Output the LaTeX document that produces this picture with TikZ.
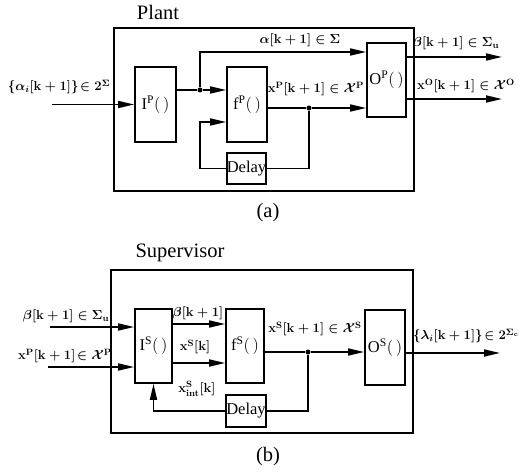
\RequirePackage{fix-cm}
\documentclass[tikz,border=0pt]{standalone}
\usepackage{amsmath,bm}
\usepackage{fontspec}
\setmainfont{Liberation Serif}
\usetikzlibrary{arrows.meta}
\tikzset{
  frame/.style={draw, line width=1.8pt, inner sep=0pt},
  blk/.style={draw, line width=1.7pt, inner sep=0pt, font=\fontsize{16.5}{18}\selectfont},
  sig/.style={font=\fontsize{13.1}{15}\selectfont\boldmath, inner sep=1pt},
  title/.style={font=\fontsize{20.5}{23}\selectfont, inner sep=1pt},
  flow/.style={-{Triangle[length=16pt,width=7pt]}, line width=1.7pt},
  wire/.style={line width=1.7pt},
  dot/.style={circle, fill, inner sep=0pt, minimum size=5pt},
}
\newcommand{\cx}{\mathcal{X}}
\newcommand{\kk}{[\mathbf{k}+1]}

\begin{document}
\begin{tikzpicture}[x=1pt, y=1pt]
\useasboundingbox (0,0) rectangle (521,471);

%% ── (a) the plant ────────────────────────────────────────────────────────
\node[title] (tplant) at (158,459) {Plant};
\node[frame, minimum width=300, minimum height=163] (plant) at (264,361.5) {};
\node[blk, minimum width=41, minimum height=75] (ip) at (155.5,366.5)
  {$\mathrm{I}^{\mathrm{P}}(\,)$};
\node[blk, minimum width=40, minimum height=75] (fp) at (247,366.5)
  {$\mathrm{f}^{\mathrm{P}}(\,)$};
\node[blk, minimum width=39, minimum height=31] (dp) at (246.5,302.5) {Delay};
\node[blk, minimum width=39, minimum height=74] (op) at (386.5,391)
  {$\mathrm{O}^{\mathrm{P}}(\,)$};

\coordinate (ain) at (52,366.5);
\coordinate (atop) at (200,419);
\coordinate (aloop) at (200,349);
\coordinate (bout) at (502,414);
\coordinate (xout) at (502,372);
\node[dot] (ja) at (200,381) {};
\node[dot] (jb) at (309,363) {};

\draw[flow] (ain) -- (ip.west);
\draw[wire] (ip.east |- ja) -- (ja);
\draw[flow] (ja) -- (ja -| fp.west);
\draw[flow] (ja) -- (atop) -- (atop -| op.west);
\draw[flow] (dp.west) -| (aloop) -- (aloop -| fp.west);
\draw[wire] (fp.east |- jb) -- (jb);
\draw[flow] (jb) -- (jb -| op.west);
\draw[wire] (jb) |- (dp.east);
\draw[flow] (op.east |- bout) -- (bout);
\draw[flow] (op.east |- xout) -- (xout);

\node[sig] (lain) at (59,384) {$\{\alpha_i\kk\}\!\in 2^{\Sigma}$};
\node[sig] (lalpha) at (300,431) {$\alpha\kk \in \Sigma$};
\node[sig] (lxp) at (316,382) {$\mathbf{x}^{\mathbf{P}}\kk \in \cx^{\mathbf{P}}$};
\node[sig] (lbeta) at (456,428) {$\beta\kk \in \Sigma_{\mathbf{u}}$};
\node[sig] (lxo) at (466,385) {$\mathbf{x}^{\mathbf{O}}\kk \in \cx^{\mathbf{O}}$};
\node[title] (capa) at (268,258) {(a)};

%% ── (b) the supervisor ───────────────────────────────────────────────────
\node[title] (tsup) at (180,218) {Supervisor};
\node[frame, minimum width=302, minimum height=163] (sup) at (262,119.5) {};
\node[blk, minimum width=37, minimum height=74] (is) at (153.5,125)
  {$\mathrm{I}^{\mathrm{S}}(\,)$};
\node[blk, minimum width=38, minimum height=74] (fs) at (245,125)
  {$\mathrm{f}^{\mathrm{S}}(\,)$};
\node[blk, minimum width=40, minimum height=32] (ds) at (246,60) {Delay};
\node[blk, minimum width=40, minimum height=75] (os) at (385,123.5)
  {$\mathrm{O}^{\mathrm{S}}(\,)$};

\coordinate (bin) at (50,144);
\coordinate (xin) at (48,104);
\coordinate (lout) at (500,118);
\node[dot] (jc) at (308,119) {};

\draw[flow] (bin) -- (bin -| is.west);
\draw[flow] (xin) -- (xin -| is.west);
\draw[flow] ([yshift=22]is.east) -- ([yshift=22]is.east -| fs.west);
\draw[flow] ([yshift=-17]is.east) -- ([yshift=-17]is.east -| fs.west);
\draw[flow] (ds.west) -| (is.south);
\draw[wire] (fs.east |- jc) -- (jc);
\draw[flow] (jc) -- (jc -| os.west);
\draw[wire] (jc) |- (ds.east);
\draw[flow] (os.east |- lout) -- (lout);

\node[sig] (lbin) at (66,155) {$\beta\kk \in \Sigma_{\mathbf{u}}$};
\node[sig] (lxin) at (65,115) {$\mathbf{x}^{\mathbf{P}}\kk\!\in \cx^{\mathbf{P}}$};
\node[sig] (lbs) at (198,158) {$\beta\kk$};
\node[sig] (lxs) at (195,124) {$\mathbf{x}^{\mathbf{S}}[\mathbf{k}]$};
\node[sig] (lint) at (197,82) {$\mathbf{x}^{\mathbf{S}}_{\mathbf{int}}[\mathbf{k}]$};
\node[sig] (lxs1) at (315,142) {$\mathbf{x}^{\mathbf{S}}\kk \in \cx^{\mathbf{S}}$};
\node[sig] (llam) at (466,135) {$\{\lambda_i\kk\}\!\in 2^{\Sigma_{\mathbf{c}}}$};
\node[title] (capb) at (268,14) {(b)};

\end{tikzpicture}
\end{document}
